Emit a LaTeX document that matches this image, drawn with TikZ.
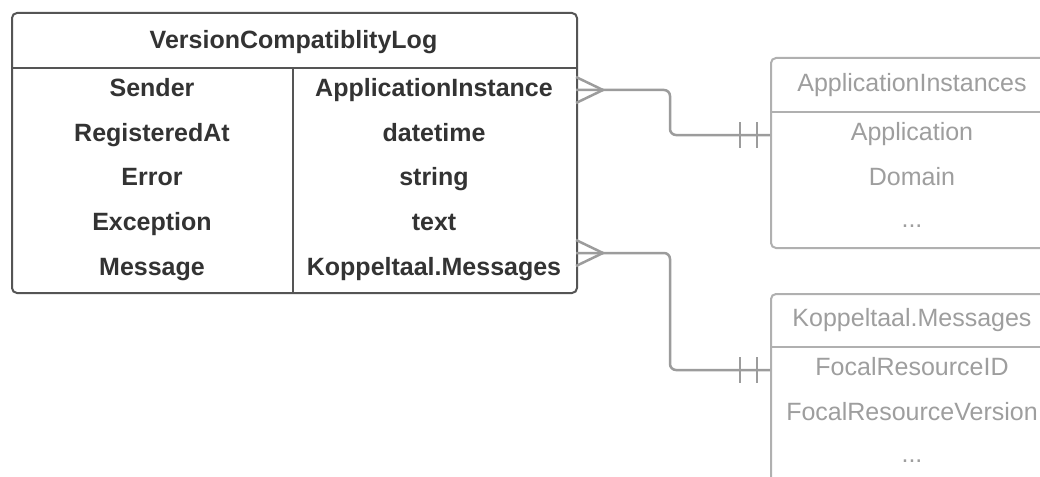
\documentclass[tikz,border=0pt]{standalone}
\usepackage{fontspec}
\setmainfont{Liberation Sans}
\begin{document}
\begin{tikzpicture}[x=1pt,y=-1pt,
  mainbox/.style={draw=mainline, line width=2pt, rounded corners=5pt},
  lightbox/.style={draw=lightline, line width=2pt, rounded corners=5pt},
  maintxt/.style={text=maintext, font=\fontsize{25}{29}\selectfont\bfseries, inner sep=0pt, text height=17.9pt, text depth=0pt},
  lighttxt/.style={text=lighttext, font=\fontsize{25}{29}\selectfont, inner sep=0pt, text height=17.9pt, text depth=0pt},
  conn/.style={draw=connline, line width=2.5pt},
  bar/.style={draw=connline, line width=2.5pt}]
\definecolor{mainline}{HTML}{555555}
\definecolor{maintext}{HTML}{333333}
\definecolor{lightline}{HTML}{B0B0B0}
\definecolor{lighttext}{HTML}{9E9E9E}
\definecolor{connline}{HTML}{9C9C9C}
\useasboundingbox (0,0) rectangle (1040,476);
\clip (0,0) rectangle (1040,476);
\fill[white] (0,0) rectangle (1040,476);

% main table
\node[mainbox, anchor=north west, minimum width=565pt, minimum height=280pt, inner sep=0pt] (vcl) at (11,12) {};
\draw[draw=mainline, line width=2pt] (11,68) -- (576,68);
\draw[draw=mainline, line width=2pt] (293,68) -- (293,292);
\node[maintxt] (title) at (293.5,40) {VersionCompatiblityLog};
\node[maintxt] (r1a) at (152,88) {Sender};
\node[maintxt] (r2a) at (152,133) {RegisteredAt};
\node[maintxt] (r3a) at (152,177) {Error};
\node[maintxt] (r4a) at (152,222) {Exception};
\node[maintxt] (r5a) at (152,267) {Message};
\node[maintxt] (r1b) at (434,88) {ApplicationInstance};
\node[maintxt] (r2b) at (434,133) {datetime};
\node[maintxt] (r3b) at (434,177) {string};
\node[maintxt] (r4b) at (434,222) {text};
\node[maintxt] (r5b) at (434,267) {Koppeltaal.Messages};

% ApplicationInstances
\node[lightbox, anchor=north west, minimum width=285pt, minimum height=190pt, inner sep=0pt] (ai) at (770,57) {};
\draw[draw=lightline, line width=2pt] (770,112) -- (1055,112);
\node[lighttxt] (aititle) at (912,83) {ApplicationInstances};
\node[lighttxt] (ai1) at (912,132) {Application};
\node[lighttxt] (ai2) at (912,177) {Domain};
\node[lighttxt] (ai3) at (912,219) {...};

% Koppeltaal.Messages
\node[lightbox, anchor=north west, minimum width=285pt, minimum height=220pt, inner sep=0pt] (km) at (770,293) {};
\draw[draw=lightline, line width=2pt] (770,347) -- (1055,347);
\node[lighttxt] (kmtitle) at (912,318) {Koppeltaal.Messages};
\node[lighttxt] (km1) at (912,367) {FocalResourceID};
\node[lighttxt] (km2) at (912,412) {FocalResourceVersion};
\node[lighttxt] (km3) at (912,454) {...};

% connector 1
\coordinate (c1s) at (576,90);
\coordinate (c1a) at (603,90);
\coordinate (c1e) at (770,135);
\draw[conn, rounded corners=6pt] (c1s) -- (670,90) -- (670,135) -- (c1e);
\draw[conn] (576,77) -- (c1a) -- (576,103);
\draw[bar] (740,122) -- (740,148);
\draw[bar] (757,122) -- (757,148);

% connector 2
\coordinate (c2s) at (576,253);
\coordinate (c2a) at (603,253);
\coordinate (c2e) at (770,370);
\draw[conn, rounded corners=6pt] (c2s) -- (670,253) -- (670,370) -- (c2e);
\draw[conn] (576,240) -- (c2a) -- (576,266);
\draw[bar] (740,357) -- (740,383);
\draw[bar] (757,357) -- (757,383);
\end{tikzpicture}
\end{document}
